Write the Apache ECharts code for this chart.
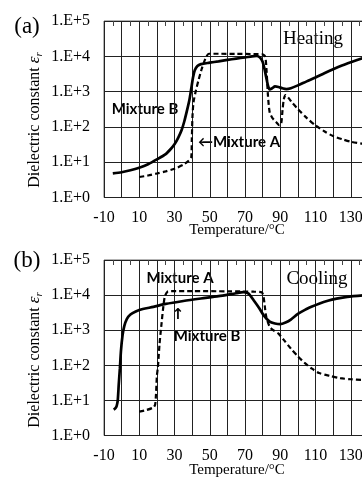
<!DOCTYPE html>
<html><head><meta charset="utf-8">
<script src="https://cdn.jsdelivr.net/npm/echarts@6/dist/echarts.min.js"></script>
<style>html,body{margin:0;padding:0;overflow:hidden;background:#fff;width:362px;height:477px}#c{width:420px;height:477px}</style>
</head><body><div id="c"></div><script>
// x tick labels shown (grid lines every 10 °C)
const xTickLabels = [-10, 10, 30, 50, 70, 90, 110, 130];
const yTickLabels = ['1.E+0', '1.E+1', '1.E+2', '1.E+3', '1.E+4', '1.E+5'];

// (a) Heating — Mixture A (dashed)
const heatingA = [[10,3.8],[15,4.2],[20,4.8],[25,5.5],[30,6.5],[35,8.5],[38,11],[39.5,14],[39.8,40],[40.2,200],[40.8,500],[42,1000],[43.5,2000],[45.5,4500],[47.5,8500],[49.5,11800],[55,11800],[65,11700],[75,11600],[80,11400],[81.5,9500],[82.3,3500],[83,800],[84,260],[85.5,180],[87.5,140],[89.5,112],[90.5,120],[91.3,300],[92,600],[93,800],[94.5,680],[97,470],[100,320],[105,180],[110,110],[115,75],[120,55],[125,45],[130,38],[137,33]];
// (a) Heating — Mixture B (solid)
const heatingB = [[-5,4.8],[0,5.2],[5,5.9],[10,7],[15,8.8],[20,12],[25,17],[28,24],[30,32],[32,48],[34,80],[35.5,140],[37,280],[38.5,600],[39.5,1200],[40.5,2500],[41.5,4000],[43,5300],[45,6000],[50,6600],[55,7200],[60,7900],[65,8600],[70,9300],[74,10000],[76.5,10200],[78.5,9300],[80,7000],[81,4500],[82,2600],[83,1500],[84,1150],[85.5,1250],[87,1400],[89,1350],[91,1250],[93.5,1180],[96,1250],[100,1500],[105,1950],[110,2500],[115,3300],[120,4300],[125,5500],[130,6800],[137,9000]];
// (b) Cooling — Mixture A (dashed)
const coolingA = [[10,4.8],[14,5.3],[18,6.3],[19,7.5],[19.5,15],[20,50],[20.6,90],[21.5,400],[22.5,1300],[23.5,4000],[24.5,9000],[26,12500],[28,13000],[40,13000],[60,12800],[75,12500],[79.5,12000],[80.5,9000],[81.2,5000],[82,2500],[84,1250],[86,1000],[89,800],[92,530],[96,300],[100,180],[104,115],[108,80],[112,60],[118,50],[124,43],[130,40],[137,38]];
// (b) Cooling — Mixture B (solid)
const coolingB = [[-4.5,5.5],[-3.5,6],[-2.8,7],[-2.2,10],[-1.6,30],[-1,80],[-0.4,250],[0.5,700],[1.5,1300],[3,2100],[5,2800],[8,3400],[12,4000],[18,4600],[25,5600],[35,6800],[45,8000],[55,9300],[65,11300],[69,12100],[72,11000],[75,7000],[78,4300],[80.5,2700],[84,1750],[87,1550],[90,1480],[93,1650],[96,2000],[100,2900],[104,3800],[108,4700],[112,5700],[117,6900],[122,7900],[128,8900],[137,9800]];

const serif = 'Liberation Serif';
const grids = [
  {left:104, top:21, width:282, height:176.5},
  {left:104, top:260, width:282, height:175.5}
];
function xAxisMain(i){
  return {type:'value', gridIndex:i, min:-10, max:150, interval:10,
    axisLine:{show:false}, axisTick:{show:false},
    splitLine:{show:true, lineStyle:{color:'#222', width:1}},
    axisLabel:{margin:12, fontFamily:serif, fontSize:16, color:'#000',
      formatter: v => xTickLabels.includes(v) ? String(v) : ''}};
}
function xAxisTop(i){
  return {type:'value', gridIndex:i, position:'top', min:-10, max:150, interval:10,
    axisLine:{show:false}, axisTick:{show:false, inside:true}, axisLabel:{show:false},
    splitLine:{show:false},
    minorTick:{show:true, splitNumber:2, length:5, lineStyle:{color:'#444', width:1}}};
}
function yAxis(i){
  return {type:'log', logBase:10, gridIndex:i, min:1, max:100000,
    axisLine:{show:false}, axisTick:{show:false},
    splitLine:{show:true, lineStyle:{color:'#222', width:1}},
    axisLabel:{margin:14, fontFamily:serif, fontSize:16, color:'#000',
      formatter: v => yTickLabels[Math.round(Math.log10(v))]}};
}
function lineSeries(data, xi, yi, dashed){
  return {type:'line', data:data, xAxisIndex:xi, yAxisIndex:yi, showSymbol:false, symbol:'none',
    smooth:0.25, clip:true, animation:false,
    lineStyle: dashed ? {color:'#000', width:2.2, type:[5,3]} : {color:'#000', width:2.7}};
}
function txt(x, y, text, font, extra){
  return Object.assign({type:'text', x:x, y:y, silent:true,
    style:{text:text, font:font, fill:'#000', align:'center', verticalAlign:'middle'}}, extra||{});
}
function yTitle(cy){
  return {type:'text', x:35, y:cy, rotation:Math.PI/2, silent:true,
    style:{text:'Dielectric constant {e|ε}{r|r}', fontFamily:serif, fontSize:16, fill:'#000',
      align:'center', verticalAlign:'middle', lineHeight:20,
      rich:{e:{fontFamily:serif, fontSize:17, fontStyle:'italic', fill:'#000', lineHeight:20},
            r:{fontFamily:serif, fontSize:11, fontStyle:'italic', fill:'#000', verticalAlign:'bottom', lineHeight:20, padding:[7,0,0,0]}}}};
}
const chart = echarts.init(document.getElementById('c'), null, {renderer:'canvas'});
chart.setOption({
  backgroundColor:'#fff',
  animation:false,
  grid: grids.map(g => Object.assign({show:true, borderColor:'#666', borderWidth:1}, g)),
  xAxis:[xAxisMain(0), xAxisMain(1), xAxisTop(0), xAxisTop(1)],
  yAxis:[yAxis(0), yAxis(1)],
  series:[
    lineSeries(heatingB, 0, 0, false),
    lineSeries(heatingA, 0, 0, true),
    lineSeries(coolingB, 1, 1, false),
    lineSeries(coolingA, 1, 1, true)
  ],
  graphic:[
    txt(27, 27, '(a)', '23px "Liberation Serif"'),
    txt(27, 261, '(b)', '23px "Liberation Serif"'),
    yTitle(120), yTitle(360),
    txt(237, 230, 'Temperature/°C', '15px "Liberation Serif"'),
    txt(237, 470, 'Temperature/°C', '15px "Liberation Serif"'),
    txt(313, 39, 'Heating', '19px "Liberation Serif"'),
    txt(317, 279, 'Cooling', '19px "Liberation Serif"'),
    txt(145, 109, 'Mixture B', 'bold 15px Lato'),
    txt(239, 142, '←Mixture A', 'bold 15px Lato'),
    txt(180, 278, 'Mixture A', 'bold 15px Lato'),
    txt(178, 315, '↑', 'bold 15px "DejaVu Sans"'),
    txt(207, 336, 'Mixture B', 'bold 15px Lato')
  ]
});
</script></body></html>
